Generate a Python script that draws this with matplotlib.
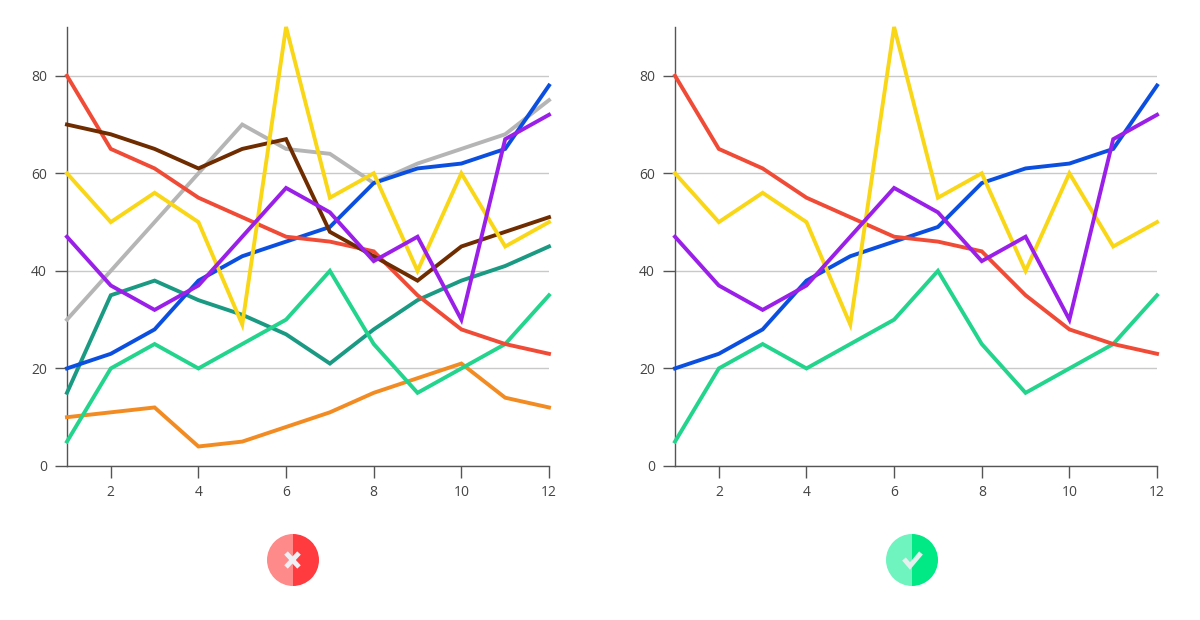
import matplotlib
matplotlib.use("Agg")
import matplotlib.pyplot as plt
from matplotlib.patches import Wedge

plt.rcParams['font.family'] = ['Open Sans', 'DejaVu Sans']

months = list(range(1, 13))

red = [80, 65, 61, 55, 51, 47, 46, 44, 35, 28, 25, 23]
blue = [20, 23, 28, 38, 43, 46, 49, 58, 61, 62, 65, 78]
yellow = [60, 50, 56, 50, 29, 90, 55, 60, 40, 60, 45, 50]
purple = [47, 37, 32, 37, 47, 57, 52, 42, 47, 30, 67, 72]
green = [5, 20, 25, 20, 25, 30, 40, 25, 15, 20, 25, 35]
# extra series only in the "bad" chart
gray = [30, 40, 50, 60, 70, 65, 64, 58, 62, 65, 68, 75]
brown = [70, 68, 65, 61, 65, 67, 48, 43, 38, 45, 48, 51]
teal = [15, 35, 38, 34, 31, 27, 21, 28, 34, 38, 41, 45]
orange = [10, 11, 12, 4, 5, 8, 11, 15, 18, 21, 14, 12]

yticks = [0, 20, 40, 60, 80]
xticks = [2, 4, 6, 8, 10, 12]

bad = [(gray, '#b5b5b5'), (orange, '#f28c22'), (teal, '#1a9a82'),
       (green, '#22d48c'), (blue, '#0b4fe0'), (red, '#f04b36'),
       (brown, '#6e2c00'), (yellow, '#f9d616'), (purple, '#9a1fe8')]
good = [(green, '#22d48c'), (blue, '#0b4fe0'), (red, '#f04b36'),
        (yellow, '#f9d616'), (purple, '#9a1fe8')]

fig = plt.figure(figsize=(12, 6.2), dpi=100)
ax1 = fig.add_axes([0.0558, 0.2484, 0.4017, 0.7081])
ax2 = fig.add_axes([0.5625, 0.2484, 0.4017, 0.7081])

for ax, series in [(ax1, bad), (ax2, good)]:
    for vals, col in series:
        ax.plot(months, vals, color=col, lw=2.8, solid_joinstyle='miter',
                clip_on=False, zorder=3)
    ax.set_xlim(1, 12)
    ax.set_ylim(0, 90)
    ax.set_yticks(yticks)
    ax.set_xticks(xticks)
    ax.grid(axis='y', color='#c9c9c9', lw=1)
    ax.set_axisbelow(True)
    for s in ['top', 'right']:
        ax.spines[s].set_visible(False)
    for s in ['left', 'bottom']:
        ax.spines[s].set_color('#555555')
        ax.spines[s].set_linewidth(1)
    ax.tick_params(colors='#555555', labelcolor='#444444', labelsize=10,
                   length=8.5, width=1, pad=5)
    ax.tick_params(axis='y', pad=6)

# badge icons below the charts
ov = fig.add_axes([0, 0, 1, 1], zorder=5)
ov.set_xlim(0, 1200)
ov.set_ylim(620, 0)
ov.axis('off')

def badge(cx, cy, light, dark):
    ov.add_patch(Wedge((cx, cy), 26, 90, 270, color=light, lw=0))
    ov.add_patch(Wedge((cx, cy), 26, 270, 90, color=dark, lw=0))

badge(293, 560, '#ff8a8a', '#ff3b3f')
ov.plot([286, 299], [553, 567], color='#eef0f5', lw=3.5, solid_capstyle='butt')
ov.plot([286, 299], [567, 553], color='#eef0f5', lw=3.5, solid_capstyle='butt')

badge(912, 560, '#6ff4bf', '#00e985')
ov.plot([904, 910, 921], [559, 566, 553], color='#e6f0ee', lw=3.5,
        solid_capstyle='butt', solid_joinstyle='miter')

fig.savefig('out.png', dpi=100, facecolor='white')
